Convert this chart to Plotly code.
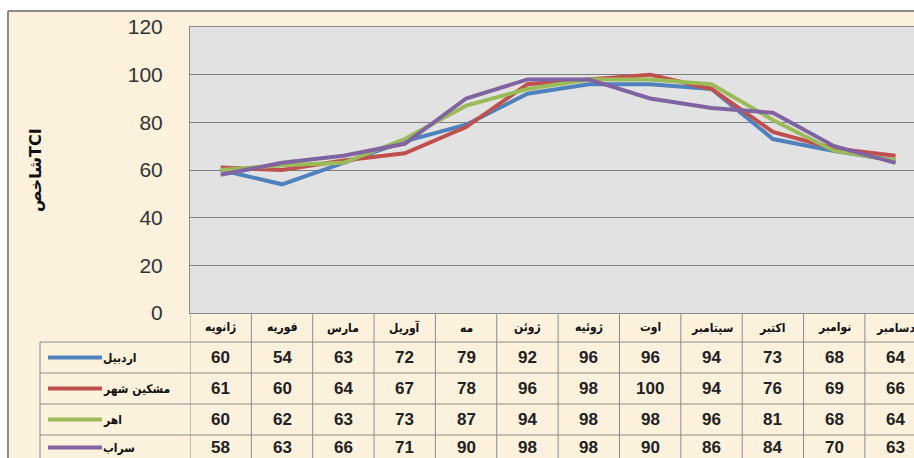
import plotly.graph_objects as go

# ---------------- data ----------------
months = ["ژانویه", "فوریه", "مارس", "آوریل", "مه", "ژوئن",
          "ژوئیه", "اوت", "سپتامبر", "اکتبر", "نوامبر", "دسامبر"]
station_names = ["اردبیل", "مشکین شهر", "اهر", "سراب"]
ardabil = [60, 54, 63, 72, 79, 92, 96, 96, 94, 73, 68, 64]
meshkin_shahr = [61, 60, 64, 67, 78, 96, 98, 100, 94, 76, 69, 66]
ahar = [60, 62, 63, 73, 87, 94, 98, 98, 96, 81, 68, 64]
sarab = [58, 63, 66, 71, 90, 98, 98, 90, 86, 84, 70, 63]
y_ticks = [0, 20, 40, 60, 80, 100, 120]
y_title = "شاخصTCI"

series = [ardabil, meshkin_shahr, ahar, sarab]
colors = ["#4F81BD", "#C0504D", "#9BBB59", "#8064A2"]

# ---------------- layout helpers (pixels) ----------------
W, H = 914, 458
def px(x):
    return x / W
def py(y):
    return 1 - y / H

PLOT_L, PLOT_T, PLOT_B = 190, 27, 313
row_lines = [342, 373, 404, 435]
row_centers = [357.5, 388.5, 419.5, 447.5]
header_center = 327.5
GRID = "#8C8C8C"
CREAM = "#FBF1DD"
AR_FONT = "DejaVu Sans Condensed, DejaVu Sans"

fig = go.Figure()
x_idx = list(range(len(months)))
for name, vals, col in zip(station_names, series, colors):
    fig.add_trace(go.Scatter(x=x_idx, y=vals, mode="lines", name=name,
                             line=dict(color=col, width=4),
                             showlegend=False, hoverinfo="skip"))

shapes = []
# white outer margins + chart border
shapes.append(dict(type="rect", xref="paper", yref="paper", x0=0, x1=1,
                   y0=py(11), y1=1, fillcolor="white", line=dict(width=0), layer="below"))
shapes.append(dict(type="rect", xref="paper", yref="paper", x0=0, x1=px(8),
                   y0=0, y1=1, fillcolor="white", line=dict(width=0), layer="below"))
shapes.append(dict(type="line", xref="paper", yref="paper", x0=px(8), x1=1,
                   y0=py(11), y1=py(11), line=dict(color="#8A8A8A", width=2)))
shapes.append(dict(type="line", xref="paper", yref="paper", x0=px(8), x1=px(8),
                   y0=py(11), y1=0, line=dict(color="#8A8A8A", width=2)))

# table horizontal lines
for yl in row_lines:
    shapes.append(dict(type="line", xref="paper", yref="paper", x0=px(40), x1=1,
                       y0=py(yl), y1=py(yl), line=dict(color=GRID, width=1)))
# table vertical lines (category boundaries)
for i in range(len(months)):
    shapes.append(dict(type="line", xref="x", yref="paper", x0=i - 0.5, x1=i - 0.5,
                       y0=py(PLOT_B), y1=0, line=dict(color=GRID, width=1)))
shapes.append(dict(type="line", xref="paper", yref="paper", x0=px(40), x1=px(40),
                   y0=py(row_lines[0]), y1=0, line=dict(color=GRID, width=1)))
# legend keys inside the table
for rc, col in zip(row_centers, colors):
    shapes.append(dict(type="line", xref="paper", yref="paper", x0=px(48), x1=px(102),
                       y0=py(rc), y1=py(rc), line=dict(color=col, width=4)))

annotations = []
for i, m in enumerate(months):
    annotations.append(dict(x=i, y=py(header_center), xref="x", yref="paper",
                            xanchor="center", yanchor="middle",
                            text="<b>" + m + "</b>", showarrow=False,
                            font=dict(family=AR_FONT, size=12, color="#111")))
for rc, name, vals in zip(row_centers, station_names, series):
    annotations.append(dict(x=px(101), y=py(rc), xref="paper", yref="paper",
                            xanchor="left", yanchor="middle",
                            text="<b>" + name + "</b>", showarrow=False,
                            font=dict(family=AR_FONT, size=12, color="#111")))
    for i, v in enumerate(vals):
        annotations.append(dict(x=i, y=py(rc), xref="x", yref="paper",
                                xanchor="center", yanchor="middle",
                                text="<b>" + str(v) + "</b>", showarrow=False,
                                font=dict(family="Liberation Sans", size=17, color="#222")))
annotations.append(dict(x=px(35), y=py(170), xref="paper", yref="paper",
                        xanchor="center", yanchor="middle",
                        text="<b>" + y_title + "</b>", textangle=-90, showarrow=False,
                        font=dict(family="DejaVu Sans", size=16, color="#111")))

fig.update_layout(
    width=W, height=H,
    autosize=False,
    margin=dict(l=0, r=0, t=0, b=0, pad=0),
    paper_bgcolor=CREAM,
    plot_bgcolor="#E2E2E2",
    shapes=shapes,
    annotations=annotations,
    xaxis=dict(domain=[px(PLOT_L), 1], range=[-0.5, 11.3], showticklabels=False,
               showgrid=False, zeroline=False, showline=True, mirror=True,
               linecolor=GRID, linewidth=1, ticks="", automargin=False),
    yaxis=dict(domain=[py(PLOT_B), py(PLOT_T)], range=[0, 120], tickvals=y_ticks,
               showgrid=True, gridcolor="#7F7F7F", gridwidth=1, zeroline=False,
               showline=True, linecolor=GRID, ticks="", ticklabelstandoff=22,
               automargin=False,
               tickfont=dict(family="Liberation Sans", size=21, color="#333")),
)

fig.write_html("out.html",
               config={"displayModeBar": False},
               post_script="document.body.style.margin='0';document.body.style.overflow='hidden';")
